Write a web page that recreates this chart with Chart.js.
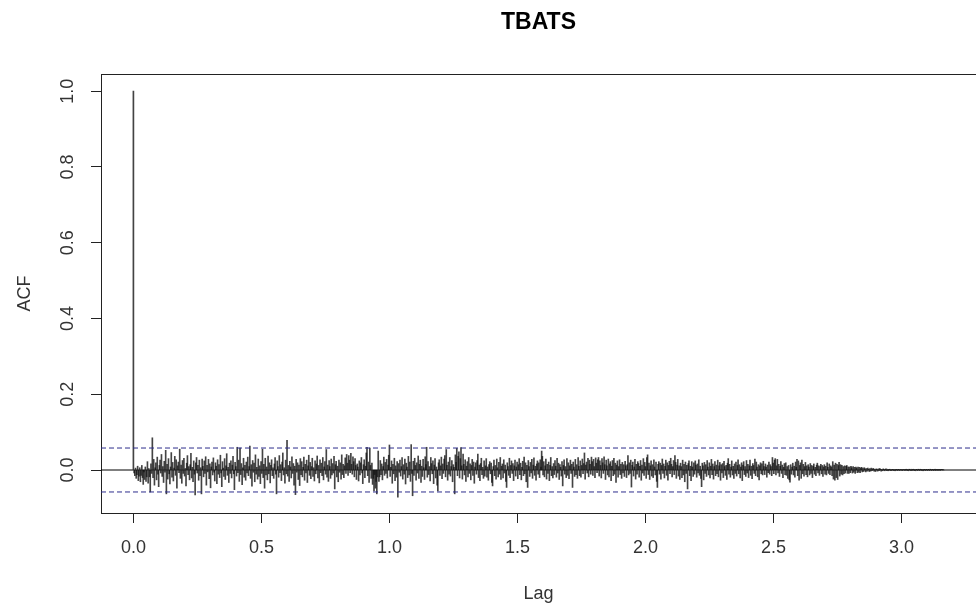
<!DOCTYPE html>
<html><head><meta charset="utf-8">
<script src="https://cdn.jsdelivr.net/npm/chart.js@4/dist/chart.umd.min.js"></script>
<style>html,body{margin:0;padding:0;background:#fff;overflow:hidden}#wrap{width:976px;height:609px}</style>
</head><body><div id="wrap"><canvas id="c" width="976" height="609"></canvas></div>
<script>
const chartTitle = "TBATS";
const xAxisTitle = "Lag";
const yAxisTitle = "ACF";
const lagFrequency = 365;
const xTickValues = [0, 0.5, 1, 1.5, 2, 2.5, 3];
const yTickValues = [0, 0.2, 0.4, 0.6, 0.8, 1.0];
const confidenceLimit = 0.058;
// ACF values in thousandths, lags 0..1155 (step 1/365)
const acfA = [1000,-8,-15,5,-22,-12,10,-28,-16,6,-31,-14,12,-20,-38,-5,-25,8,-30,-18,
22,-35,4,-18,-58,16,-9,85,-20,28,-40,6,19,-26,34,-11,-44,12,26,-8,
41,-17,9,-33,23,-6,52,-63,15,-24,30,-10,-37,8,46,-19,20,-29,5,36,
-14,27,-48,11,21,-7,55,-22,13,-35,25,-9,31,-16,4,-42,18,38,-12,9,
-26,14,44,-21,7,-31,24,-11,-66,19,33,-8,12,-27,26,-15,6,-63,29,10];
const acfB = [-18,24,-9,35,-40,12,-5,28,-23,16,-47,8,21,-13,32,-6,-29,19,10,-36,
27,-11,14,-20,39,-8,-44,22,5,-17,30,-25,11,43,-14,7,-33,18,-9,24,
-21,13,36,-10,-52,20,9,-16,60,-7,26,-30,58,-12,17,-39,6,31,-19,12,
-27,21,-8,34,-15,9,63,-22,14,-43,25,-6,18,-31,40,-11,7,-24,29,-17,
11,-36,22,-9,55,-20,15,-48,31,-13,8,-26,37,-10,19,-34,12,27,-15,6];
const acfC = [-22,16,33,-11,-63,24,9,-19,38,-7,14,-28,21,45,-13,6,-35,26,-10,78,
-16,12,-30,23,8,-21,35,-9,17,-40,10,-65,28,-6,19,-25,13,-41,30,-12,
22,-18,7,34,-27,15,-8,26,-33,11,39,-14,20,-23,9,31,-17,6,-29,24,
-10,16,37,-21,12,-34,27,-7,18,-15,33,-26,8,22,-11,54,-19,13,-30,25,
9,-22,29,-13,17,-8,36,-50,14,23,-18,10,-31,26,-6,19,-24,40,-12,15];
const acfD = [-20,11,32,-9,41,18,-14,38,26,-7,44,15,-11,35,22,-18,30,12,-25,16,
8,-29,24,-13,19,33,-8,-36,14,27,-20,10,45,60,-15,21,-33,58,12,-22,
18,-38,-22,-55,-12,-48,-30,-63,-18,50,-30,-18,25,-12,16,-26,9,34,-14,20,
-9,28,-21,13,39,66,-17,7,24,-35,15,-10,31,-28,11,-19,22,-72,17,-6,
26,-16,9,33,-24,14,-11,29,-37,18,8,-20,36,-13,21,-30,67,-9,-68,23];
const acfE = [-14,31,12,-27,19,-8,37,-22,15,26,-33,10,-17,28,6,-25,35,14,60,-19,
22,-12,9,-29,33,17,-10,24,-36,13,30,-21,8,-40,-55,19,27,-14,11,34,
-23,16,-9,29,38,-18,54,12,-27,21,-11,33,-16,9,25,-31,14,7,-63,40,
20,57,-15,36,48,-21,30,59,11,-24,42,15,-13,27,-30,10,22,-18,33,-9,
16,-26,12,28,-14,21,-35,8,19,-11,25,42,-20,13,-28,17,31,-12,7,-22];
const acfF = [24,-16,11,30,-19,8,-27,14,22,-10,18,-33,-42,9,26,-15,12,-24,29,6,
-18,20,-11,33,-25,10,16,-21,27,-8,13,-30,-46,19,9,-14,31,-20,12,24,
-9,17,-28,11,26,-16,8,21,-23,14,30,-12,18,-26,7,23,-15,34,-10,19,
-31,12,-46,25,9,-17,20,-8,28,-22,13,32,-14,10,-27,16,24,-11,19,-20,
27,8,50,36,-13,22,-18,11,29,-24,15,-9,21,-28,12,33,-15,9,-21,17];
const acfG = [-12,25,10,-19,31,-8,18,-25,14,7,-16,22,-42,12,27,-11,9,-20,30,-14,
19,-23,11,26,-9,15,-46,21,8,-17,28,-12,14,-22,33,10,-15,24,-19,12,
29,-10,17,45,-24,13,21,-8,31,-18,26,15,-11,34,22,-14,28,9,-20,32,
18,-7,27,33,-16,24,12,-21,30,19,-9,35,14,-25,26,11,-13,29,-18,16,
22,-28,10,25,-15,31,-11,18,-33,13,24,-19,9,27,-12,15,-22,20,-8,14];
const acfH = [-17,23,11,-20,14,38,-13,19,-9,26,-45,12,21,-16,8,28,-24,15,-11,22,
17,-19,10,25,-27,13,-8,30,-14,20,9,-22,33,40,-12,18,-25,11,24,-16,
14,-20,27,8,-13,21,-30,-46,15,22,-11,18,-24,12,29,-9,16,-21,10,26,
-14,19,-27,12,23,-10,31,15,-18,9,25,-12,38,20,-22,13,28,-16,11,-25,
18,9,-20,26,-13,15,-31,21,-9,12,-50,17,24,-15,10,-28,22,8,-17,19];
const acfI = [-11,24,13,-19,16,-8,27,-14,10,-22,-44,18,11,-26,20,-9,14,-17,25,8,
-13,19,-21,10,28,-12,16,-24,9,22,-15,13,-10,26,-18,11,20,-27,14,-8,
17,-20,23,9,-14,12,-25,18,30,-11,15,-19,8,24,-13,10,-22,16,-9,21,
-16,12,27,-10,14,-21,8,19,-28,13,22,-12,9,-17,25,-8,15,-20,11,26,
-14,10,-23,17,12,-9,29,-15,21,8,-18,14,-26,11,19,-10,16,-13,23,9];
const acfJ = [-12,16,8,-19,13,-7,21,-11,14,9,-15,33,18,-10,26,30,-13,11,28,-8,
15,-17,10,22,-9,13,-20,7,17,-12,19,-14,9,-22,12,-26,-32,14,-11,8,
18,-13,10,-19,21,7,28,-15,24,-27,12,19,-22,26,-10,15,-16,9,20,-12,
11,-18,14,8,-13,17,-9,12,-20,10,16,-11,7,-15,13,18,-8,11,-14,9,
15,-10,12,-17,8,14,-11,10,-13,19,7,-9,16,-12,11,8,-15,22,-24,13];
const acfK = [-27,18,-20,15,-25,12,20,-16,14,-11,12,-13,9,-10,11,-8,10,12,-9,8,
-9,8,-7,10,6,-8,9,-6,7,-9,8,5,-7,8,-6,7,-7,5,7,-5,
5,-4,6,3,-5,4,-3,5,2,-4,4,-3,5,-2,3,4,-3,2,-4,3,
2,-3,3,-2,4,2,-3,2,-2,3,1,-2,2,3,-1,2,-2,1,2,-1,
2,-1,1,2,-1,1,-2,1,1,-1,2,1,-1,1,0,1,-1,1,0,1];
const acfL = [-2,1,2,-1,1,-2,2,1,-1,2,-1,1,2,-1,1,-2,1,1,-1,2,
1,-1,2,1,-1,1,-2,1,1,-1,2,1,-1,1,1,-1,2,1,-1,1,
1,-1,1,2,-1,1,1,-1,1,1,-1,1,1,0,1,0];

const acfValues = [].concat(acfA, acfB, acfC, acfD, acfE, acfF, acfG, acfH, acfI, acfJ, acfK, acfL).map(v => v / 1000);
const lags = acfValues.map((_, i) => i / lagFrequency);
const maxLag = lags[lags.length - 1];
const xMin = -0.04 * maxLag, xMax = 1.04 * maxLag;
const yMin = -0.1135, yMax = 1.045;

const FONT = '"Liberation Sans", Arial, sans-serif';
const spikeData = lags.map((x, i) => ({ x: x, y: acfValues[i] }));

const topLinePlugin = {
  id: 'topLine',
  afterDraw(chart) {
    const { ctx, chartArea: a } = chart;
    ctx.save();
    ctx.strokeStyle = '#222';
    ctx.lineWidth = 1;
    ctx.beginPath();
    const y = Math.round(a.top) + 0.5;
    ctx.moveTo(Math.round(a.left), y);
    ctx.lineTo(a.right + 2, y);
    ctx.stroke();
    ctx.restore();
  }
};

new Chart(document.getElementById('c'), {
  type: 'bar',
  data: {
    datasets: [
      { type: 'bar', data: spikeData, backgroundColor: 'rgba(20,20,20,0.8)', borderWidth: 0, barThickness: 1, grouped: false, order: 3 },
      { type: 'line', data: [{ x: xMin, y: 0 }, { x: xMax, y: 0 }], borderColor: '#000', borderWidth: 1, pointRadius: 0, order: 1 },
      { type: 'line', data: [{ x: xMin, y: confidenceLimit }, { x: xMax, y: confidenceLimit }], borderColor: 'rgb(45,45,140)', borderWidth: 1, borderDash: [5, 3], pointRadius: 0, order: 2 },
      { type: 'line', data: [{ x: xMin, y: -confidenceLimit }, { x: xMax, y: -confidenceLimit }], borderColor: 'rgb(45,45,140)', borderWidth: 1, borderDash: [5, 3], pointRadius: 0, order: 2 }
    ]
  },
  options: {
    responsive: false,
    devicePixelRatio: 1,
    animation: false,
    layout: { padding: 0 },
    plugins: {
      legend: { display: false },
      tooltip: { enabled: false },
      title: { display: true, text: chartTitle, fullSize: false, color: '#000',
        font: { family: FONT, size: 23, weight: 'bold' }, padding: { top: 8.5, bottom: 38 } }
    },
    scales: {
      x: {
        type: 'linear', min: xMin, max: xMax, offset: false,
        afterBuildTicks: s => { s.ticks = xTickValues.map(v => ({ value: v })); },
        afterFit: s => { s.height = 96; },
        grid: { display: true, drawOnChartArea: false, drawTicks: true, tickLength: 10, color: '#222', offset: false },
        border: { display: true, color: '#222', width: 1 },
        ticks: { font: { family: FONT, size: 18 }, color: '#333', padding: 14.5, maxRotation: 0, autoSkip: false,
          callback: v => Number(v).toFixed(1) },
        title: { display: true, text: xAxisTitle, color: '#333', font: { family: FONT, size: 18 }, padding: { top: 0, bottom: 4 } }
      },
      y: {
        type: 'linear', min: yMin, max: yMax,
        afterBuildTicks: s => { s.ticks = yTickValues.map(v => ({ value: v })); },
        afterFit: s => { s.width = 101; },
        grid: { display: true, drawOnChartArea: false, drawTicks: true, tickLength: 10, color: '#222' },
        border: { display: true, color: '#222', width: 1 },
        ticks: { font: { family: FONT, size: 18 }, color: '#333', padding: 10, minRotation: 90, maxRotation: 90,
          autoSkip: false, crossAlign: 'center', callback: v => Number(v).toFixed(1) },
        title: { display: true, text: yAxisTitle, color: '#333', font: { family: FONT, size: 18 }, padding: { top: 14, bottom: 0 } }
      }
    }
  },
  plugins: [topLinePlugin]
});
</script>
</body></html>
